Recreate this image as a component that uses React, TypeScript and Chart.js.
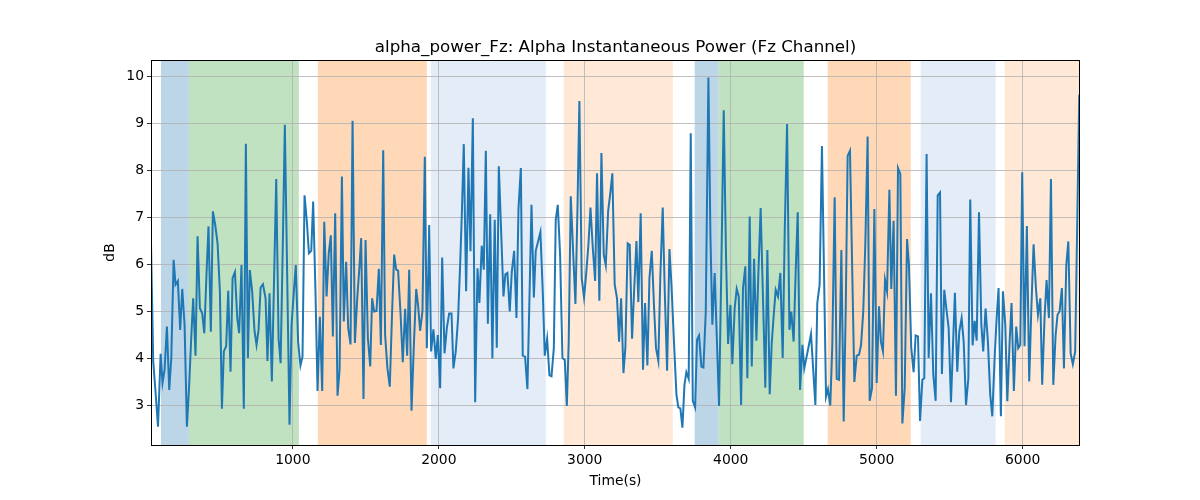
import React, { useEffect, useRef } from 'react';
import { Chart, registerables } from 'chart.js';

Chart.register(...registerables);

// sample times (s) and alpha power (dB)
const times: number[] = [
    28, 43, 60, 76, 94, 107, 121, 137, 153, 167, 183, 196, 212, 228, 242, 258, 274, 289, 303, 317,
    333, 347, 363, 379, 393, 409, 422, 438, 452, 468, 484, 500, 514, 527, 543, 557, 573, 587, 603, 619,
    632, 648, 664, 678, 692, 705, 721, 737, 751, 765, 779, 795, 813, 826, 840, 856, 870, 886, 902, 916,
    931, 945, 961, 977, 991, 1007, 1020, 1036, 1052, 1066, 1080, 1096, 1110, 1126, 1139, 1155, 1169, 1185, 1201, 1215,
    1231, 1246, 1260, 1274, 1290, 1306, 1320, 1336, 1349, 1365, 1379, 1395, 1409, 1425, 1441, 1455, 1468, 1484, 1498, 1514,
    1530, 1543, 1557, 1573, 1589, 1603, 1619, 1632, 1648, 1664, 1680, 1694, 1708, 1721, 1737, 1753, 1769, 1783, 1797, 1813,
    1829, 1845, 1858, 1872, 1888, 1904, 1918, 1934, 1947, 1963, 1979, 1993, 2009, 2023, 2039, 2055, 2071, 2087, 2100, 2116,
    2132, 2146, 2158, 2171, 2187, 2203, 2217, 2233, 2249, 2265, 2278, 2294, 2308, 2322, 2336, 2352, 2367, 2383, 2397, 2411,
    2427, 2443, 2456, 2470, 2486, 2500, 2516, 2532, 2546, 2562, 2575, 2591, 2607, 2621, 2635, 2651, 2664, 2680, 2696, 2712,
    2726, 2742, 2758, 2772, 2788, 2801, 2815, 2831, 2847, 2863, 2877, 2890, 2904, 2920, 2936, 2950, 2963, 2979, 2995, 3009,
    3025, 3039, 3055, 3071, 3084, 3100, 3114, 3130, 3144, 3160, 3176, 3189, 3205, 3221, 3235, 3249, 3265, 3278, 3294, 3308,
    3324, 3338, 3354, 3367, 3383, 3399, 3413, 3429, 3443, 3459, 3475, 3488, 3504, 3518, 3534, 3548, 3564, 3580, 3594, 3612,
    3628, 3641, 3655, 3669, 3683, 3696, 3712, 3726, 3740, 3756, 3769, 3783, 3799, 3813, 3829, 3847, 3861, 3874, 3890, 3904,
    3920, 3936, 3952, 3968, 3982, 3998, 4011, 4027, 4041, 4055, 4071, 4084, 4100, 4114, 4130, 4144, 4160, 4176, 4189, 4205,
    4221, 4237, 4251, 4267, 4281, 4294, 4308, 4324, 4340, 4356, 4370, 4386, 4402, 4415, 4431, 4445, 4459, 4475, 4491, 4504,
    4520, 4534, 4550, 4566, 4580, 4593, 4609, 4625, 4639, 4653, 4666, 4682, 4696, 4712, 4726, 4742, 4758, 4774, 4788, 4801,
    4817, 4833, 4847, 4863, 4879, 4893, 4908, 4922, 4938, 4952, 4968, 4984, 5000, 5016, 5029, 5043, 5057, 5071, 5087, 5100,
    5116, 5132, 5146, 5162, 5176, 5192, 5208, 5221, 5237, 5253, 5267, 5283, 5297, 5313, 5326, 5342, 5356, 5372, 5388, 5404,
    5418, 5434, 5447, 5463, 5477, 5493, 5509, 5523, 5536, 5552, 5566, 5582, 5596, 5612, 5628, 5641, 5657, 5671, 5685, 5701,
    5717, 5730, 5746, 5762, 5778, 5792, 5808, 5822, 5835, 5851, 5865, 5881, 5895, 5911, 5924, 5940, 5956, 5970, 5984, 5997,
    6013, 6029, 6045, 6059, 6075, 6091, 6105, 6121, 6134, 6150, 6164, 6180, 6194, 6210, 6226, 6239, 6253, 6269, 6283, 6299,
    6313, 6329, 6344, 6360, 6388,
];

const alphaPower: number[] = [
    6.45, 3.95, 3.25, 2.55, 4.10, 3.48, 3.76, 4.68, 3.33, 4.01, 6.10, 5.57, 5.65, 4.61, 5.48, 4.72, 2.55, 3.40, 4.40, 5.28,
    4.06, 6.60, 5.07, 4.96, 4.54, 5.85, 6.81, 4.57, 7.13, 6.84, 6.45, 5.43, 2.93, 4.15, 4.26, 5.44, 3.72, 5.71, 5.84, 4.86,
    4.54, 5.99, 2.93, 8.57, 4.01, 5.88, 5.43, 4.60, 4.29, 4.61, 5.51, 5.58, 5.28, 3.95, 5.39, 3.51, 5.50, 7.82, 4.43, 3.90,
    6.42, 8.97, 5.78, 2.59, 4.72, 5.43, 5.99, 4.36, 3.85, 4.04, 7.47, 6.91, 6.24, 6.29, 7.34, 5.43, 3.31, 4.89, 3.31, 6.91,
    5.32, 6.24, 6.62, 4.47, 7.09, 3.21, 3.76, 7.87, 4.79, 6.06, 4.65, 4.30, 9.06, 4.33, 5.28, 5.90, 6.56, 3.14, 6.52, 4.43,
    3.83, 5.28, 5.00, 5.01, 5.91, 4.29, 8.43, 4.50, 3.79, 3.40, 5.00, 6.21, 5.89, 5.87, 5.00, 3.92, 5.06, 4.06, 5.89, 2.89,
    4.29, 5.48, 5.13, 4.59, 5.01, 8.29, 4.22, 6.84, 4.15, 4.62, 3.99, 4.50, 3.37, 6.15, 4.11, 4.65, 4.96, 4.96, 3.79, 4.15,
    4.86, 5.99, 7.10, 8.56, 5.43, 8.06, 6.28, 9.11, 3.07, 5.92, 5.18, 6.40, 5.89, 8.42, 4.74, 7.07, 4.00, 6.95, 4.23, 8.09,
    6.70, 5.32, 5.79, 5.82, 5.00, 5.85, 6.29, 4.86, 7.20, 8.05, 4.06, 4.04, 3.35, 5.28, 7.27, 5.30, 6.29, 6.49, 6.69, 5.43,
    4.06, 4.42, 3.64, 3.62, 4.22, 6.95, 7.27, 6.20, 4.01, 3.97, 2.99, 4.36, 7.45, 6.28, 5.16, 7.20, 9.48, 5.71, 5.30, 5.78,
    6.42, 7.21, 6.35, 5.65, 7.94, 5.23, 8.37, 6.21, 5.98, 7.13, 7.55, 7.94, 5.57, 5.28, 4.36, 5.28, 3.69, 4.22, 6.45, 6.42,
    4.42, 5.43, 6.50, 5.20, 7.09, 3.76, 5.18, 3.85, 5.71, 6.29, 5.07, 4.22, 3.95, 5.78, 7.21, 5.43, 3.74, 6.33, 5.57, 4.29,
    3.23, 2.96, 2.94, 2.53, 3.44, 3.71, 3.57, 8.79, 3.10, 2.96, 4.40, 4.49, 3.83, 3.81, 5.00, 9.98, 6.60, 4.72, 5.82, 4.50,
    2.99, 5.99, 9.28, 6.13, 4.31, 5.14, 3.88, 5.07, 5.48, 5.32, 3.01, 5.50, 5.96, 3.58, 7.02, 3.83, 6.12, 4.38, 5.78, 7.20,
    5.28, 3.38, 6.31, 3.24, 4.33, 4.90, 5.46, 5.32, 5.82, 4.01, 6.70, 8.99, 4.61, 5.00, 4.36, 5.85, 7.11, 3.33, 4.29, 3.79,
    4.04, 4.26, 4.52, 3.72, 3.01, 5.18, 5.57, 8.52, 5.85, 3.19, 3.35, 3.00, 4.29, 7.43, 3.57, 3.55, 6.31, 2.66, 5.07, 8.31,
    8.42, 5.78, 3.50, 4.06, 4.08, 4.29, 5.00, 6.42, 8.72, 3.10, 3.37, 7.18, 3.48, 5.11, 4.36, 4.15, 5.67, 5.43, 7.59, 5.48,
    6.93, 3.21, 8.05, 7.92, 2.62, 3.37, 6.54, 5.99, 4.22, 3.71, 4.49, 4.47, 2.67, 3.55, 3.58, 8.35, 4.01, 5.39, 3.65, 3.10,
    7.47, 7.53, 3.67, 5.46, 5.07, 4.65, 3.07, 4.29, 5.40, 3.72, 4.57, 4.86, 4.36, 3.01, 3.58, 7.38, 4.28, 4.80, 4.38, 7.11,
    4.72, 4.15, 5.06, 4.36, 3.23, 2.77, 4.01, 4.86, 5.50, 2.77, 5.43, 4.72, 3.09, 4.36, 5.18, 3.31, 4.68, 4.22, 4.29, 7.96,
    4.26, 6.82, 3.51, 5.00, 6.43, 5.50, 4.93, 5.28, 3.44, 4.86, 5.67, 4.86, 7.82, 3.44, 4.50, 4.93, 5.00, 5.50, 3.79, 5.99,
    6.49, 4.11, 3.88, 4.15, 9.61,
];

// shaded condition spans (s)
const bandStarts: number[] = [96, 288, 1171, 1945, 2856, 3753, 3918, 4664, 5301, 5877];
const bandEnds: number[] = [288, 1041, 1918, 2733, 3603, 3918, 4500, 5233, 5815, 6393];
const bandKinds: number[] = [0, 1, 2, 3, 4, 0, 1, 2, 3, 4];

const xTicks: number[] = [1000, 2000, 3000, 4000, 5000, 6000];
const yTicks: number[] = [3, 4, 5, 6, 7, 8, 9, 10];

const bandColors = ['#bcd6e8', '#c0e2c0', '#ffd9b7', '#e4ecf7', '#ffe9d6'];
const FONT = "'DejaVu Sans', sans-serif";

const frameAndText = {
    id: 'frameAndText',
    beforeDraw(chart: Chart) {
        const { ctx, chartArea } = chart;
        const x = chart.scales.x;
        ctx.save();
        ctx.beginPath();
        ctx.rect(chartArea.left, chartArea.top, chartArea.right - chartArea.left, chartArea.bottom - chartArea.top);
        ctx.clip();
        bandStarts.forEach((start, i) => {
            const x0 = x.getPixelForValue(start);
            const x1 = x.getPixelForValue(bandEnds[i]);
            ctx.fillStyle = bandColors[bandKinds[i]];
            ctx.fillRect(x0, chartArea.top, x1 - x0, chartArea.bottom - chartArea.top);
        });
        ctx.restore();
    },
    afterDraw(chart: Chart) {
        const { ctx, chartArea } = chart;
        const cx = (chartArea.left + chartArea.right) / 2;
        const cy = (chartArea.top + chartArea.bottom) / 2;
        ctx.save();
        ctx.strokeStyle = '#000';
        ctx.lineWidth = 1;
        ctx.strokeRect(chartArea.left + 0.5, chartArea.top + 0.5, chartArea.right - chartArea.left - 1, chartArea.bottom - chartArea.top);

        ctx.fillStyle = '#000';
        ctx.textAlign = 'center';
        ctx.textBaseline = 'alphabetic';
        ctx.font = `16.7px ${FONT}`;
        ctx.fillText('alpha_power_Fz: Alpha Instantaneous Power (Fz Channel)', cx, 52);

        ctx.font = `13.9px ${FONT}`;
        ctx.textBaseline = 'middle';
        ctx.fillText('Time(s)', cx, 481);

        ctx.translate(110, cy);
        ctx.rotate(-Math.PI / 2);
        ctx.fillText('dB', 0, 0);
        ctx.restore();
    },
};

const App: React.FC = () => {
    const chartRef = useRef<HTMLCanvasElement>(null);
    const chartInstanceRef = useRef<Chart | null>(null);

    useEffect(() => {
        if (!chartRef.current) return;
        const ctx = chartRef.current.getContext('2d');
        if (!ctx) return;
        if (chartInstanceRef.current) {
            chartInstanceRef.current.destroy();
        }

        chartInstanceRef.current = new Chart(ctx, {
            type: 'line',
            data: {
                datasets: [
                    {
                        label: 'alpha_power_Fz',
                        data: times.map((t, i) => ({ x: t, y: alphaPower[i] })),
                        borderColor: '#1f77b4',
                        borderWidth: 2,
                        pointRadius: 0,
                        tension: 0,
                        fill: false,
                    },
                ],
            },
            options: {
                responsive: false,
                animation: false,
                layout: { padding: { top: 60, right: 120, left: 0, bottom: 0 } },
                plugins: {
                    legend: { display: false },
                    title: { display: false },
                    tooltip: { enabled: false },
                },
                scales: {
                    x: {
                        type: 'linear',
                        min: 28,
                        max: 6393,
                        afterBuildTicks: (scale: any) => {
                            scale.ticks = xTicks.map((value) => ({ value }));
                        },
                        afterFit: (scale: any) => {
                            scale.height = 55;
                        },
                        grid: { color: '#b0b0b0', lineWidth: 0.8, tickColor: '#000', tickLength: 4 },
                        border: { display: false },
                        ticks: {
                            color: '#000',
                            padding: 3,
                            maxRotation: 0,
                            font: { family: FONT, size: 13.9 },
                            callback: (v: any) => String(v),
                        },
                    },
                    y: {
                        min: 2.16,
                        max: 10.35,
                        afterBuildTicks: (scale: any) => {
                            scale.ticks = yTicks.map((value) => ({ value }));
                        },
                        afterFit: (scale: any) => {
                            scale.width = 151;
                        },
                        grid: { color: '#b0b0b0', lineWidth: 0.8, tickColor: '#000', tickLength: 4 },
                        border: { display: false },
                        ticks: {
                            color: '#000',
                            padding: 3,
                            font: { family: FONT, size: 13.9 },
                            callback: (v: any) => String(v),
                        },
                    },
                },
            },
            plugins: [frameAndText],
        });

        return () => {
            if (chartInstanceRef.current) {
                chartInstanceRef.current.destroy();
                chartInstanceRef.current = null;
            }
        };
    }, []);

    return (
        <div style={{ position: 'absolute', left: 0, top: 0, width: 1200, height: 500, background: '#fff' }}>
            <canvas ref={chartRef} width={1200} height={500}></canvas>
        </div>
    );
};

export default App;
